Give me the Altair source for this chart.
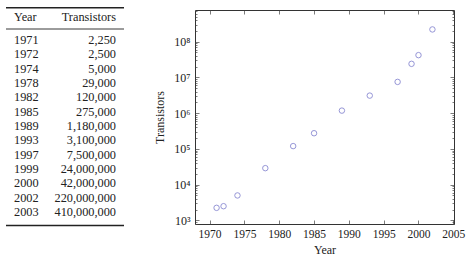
import altair as alt
import pandas as pd

# ---- data ----
years = [1971, 1972, 1974, 1978, 1982, 1985, 1989, 1993, 1997, 1999, 2000, 2002, 2003]
transistors = [2250, 2500, 5000, 29000, 120000, 275000, 1180000, 3100000,
               7500000, 24000000, 42000000, 220000000, 410000000]
# points drawn in the plot (2003 is not plotted in the reference)
plot_years = years[:12]
plot_transistors = transistors[:12]

x_ticks = [1970, 1975, 1980, 1985, 1990, 1995, 2000, 2005]
y_decades = [1e3, 1e4, 1e5, 1e6, 1e7, 1e8]
y_all_ticks = [m * d for d in [1e2, 1e3, 1e4, 1e5, 1e6, 1e7, 1e8] for m in range(1, 10)]
y_all_ticks = [v for v in y_all_ticks if 790 <= v <= 7.7e8]

table_df = pd.DataFrame({"Year": [str(y) for y in years], "Transistors": transistors})
plot_df = pd.DataFrame({"Year": plot_years, "Transistors": plot_transistors})

FONT = "Liberation Serif"
INK = "#222222"
W, H = 259, 214

# ---- table ----
tab_y = alt.Y("Year:O", sort=None, axis=None,
              scale=alt.Scale(type="point", range=[30, 202], padding=0))
tbase = alt.Chart(table_df)
col_year = tbase.mark_text(align="left", baseline="middle", font=FONT, fontSize=12.3, color=INK).encode(
    y=tab_y, x=alt.value(8), text="Year:N")
col_tr = tbase.mark_text(align="right", baseline="middle", font=FONT, fontSize=12.3, color=INK).encode(
    y=tab_y, x=alt.value(110), text=alt.Text("Transistors:Q", format=","))

hdr = pd.DataFrame({"h": ["Year", "Transistors"]})
head_year = alt.Chart(hdr).transform_filter("datum.h == 'Year'").mark_text(
    align="left", baseline="middle", font=FONT, fontSize=12.3, color=INK).encode(
    x=alt.value(8), y=alt.value(7), text="h:N")
head_tr = alt.Chart(hdr).transform_filter("datum.h == 'Transistors'").mark_text(
    align="right", baseline="middle", font=FONT, fontSize=12.3, color=INK).encode(
    x=alt.value(110), y=alt.value(7), text="h:N")

top_rule = alt.Chart(hdr).transform_filter("datum.h == 'Year'").mark_rule(color=INK, strokeWidth=1.4).encode(
    x=alt.value(0), x2=alt.value(118), y=alt.value(-2.3))
mid_rule = alt.Chart(hdr).transform_filter("datum.h == 'Year'").mark_rule(color=INK, strokeWidth=0.9).encode(
    x=alt.value(0), x2=alt.value(118), y=alt.value(19))
bot_rule = alt.Chart(hdr).transform_filter("datum.h == 'Year'").mark_rule(color=INK, strokeWidth=1.4).encode(
    x=alt.value(0), x2=alt.value(118), y=alt.value(215.5))

table = alt.layer(top_rule, mid_rule, bot_rule, head_year, head_tr, col_year, col_tr).properties(
    width=120, height=H, view=alt.ViewBackground(stroke=None))

# ---- scatter ----
xscale = alt.Scale(domain=[1967.9, 2005.1], nice=False, zero=False)
yscale = alt.Scale(type="log", domain=[795, 7.69e8], nice=False)

e = "round(log(datum.value)/LN10)"
label_expr = (f"'10' + ({e}==3?'³':{e}==4?'⁴':{e}==5?'⁵':{e}==6?'⁶':{e}==7?'⁷':'⁸')")
major_test = "abs(log(datum.value)/LN10 - round(log(datum.value)/LN10)) < 0.001"
tick_size = {"condition": {"test": major_test, "value": 4}, "value": 2}

base = alt.Chart(plot_df)

pts = base.mark_point(shape="circle", filled=False, size=30, color="#5a5ac0", strokeWidth=0.9).encode(
    x=alt.X("Year:Q", scale=xscale,
            axis=alt.Axis(orient="bottom", values=x_ticks, format="d", ticks=False, domain=False, grid=False,
                          labelFont=FONT, labelFontSize=11.5, labelColor=INK, labelPadding=4,
                          title="Year", titleFont=FONT, titleFontSize=12, titleFontWeight="normal",
                          titleColor=INK, titlePadding=5, labelFlush=False)),
    y=alt.Y("Transistors:Q", scale=yscale,
            axis=alt.Axis(orient="left", values=y_decades, labelExpr=label_expr, ticks=False, domain=False,
                          grid=False, labelFont=FONT, labelFontSize=12, labelColor=INK, labelPadding=5,
                          title="Transistors", titleFont=FONT, titleFontSize=12, titleFontWeight="normal",
                          titleColor=INK, titlePadding=7, labelFlush=False)),
)

ticks_a = base.mark_point(opacity=0).encode(
    x=alt.X("Year:Q", scale=xscale,
            axis=alt.Axis(orient="top", offset=-H, values=x_ticks, labels=False, domain=False, grid=False,
                          tickSize=4, tickColor="#444", tickWidth=0.7, title=None)),
    y=alt.Y("Transistors:Q", scale=yscale,
            axis=alt.Axis(orient="right", offset=-W, values=y_all_ticks, labels=False, domain=False, grid=False,
                          tickSize=tick_size, tickColor="#444", tickWidth=0.7, title=None)),
)
ticks_b = base.mark_point(opacity=0).encode(
    x=alt.X("Year:Q", scale=xscale,
            axis=alt.Axis(orient="bottom", offset=-H, values=x_ticks, labels=False, domain=False, grid=False,
                          tickSize=4, tickColor="#444", tickWidth=0.7, title=None)),
    y=alt.Y("Transistors:Q", scale=yscale,
            axis=alt.Axis(orient="left", offset=-W, values=y_all_ticks, labels=False, domain=False, grid=False,
                          tickSize=tick_size, tickColor="#444", tickWidth=0.7, title=None)),
)

scatter = alt.layer(pts, ticks_a, ticks_b).resolve_axis(x="independent", y="independent").properties(
    width=W, height=H, view=alt.ViewBackground(stroke="#333333", strokeWidth=1))

chart = alt.hconcat(table, scatter, spacing=69, bounds="flush").properties(
    padding={"left": 5, "top": 7, "right": 5, "bottom": 4})

chart.save("out.html", embed_options={"renderer": "svg", "actions": False})
